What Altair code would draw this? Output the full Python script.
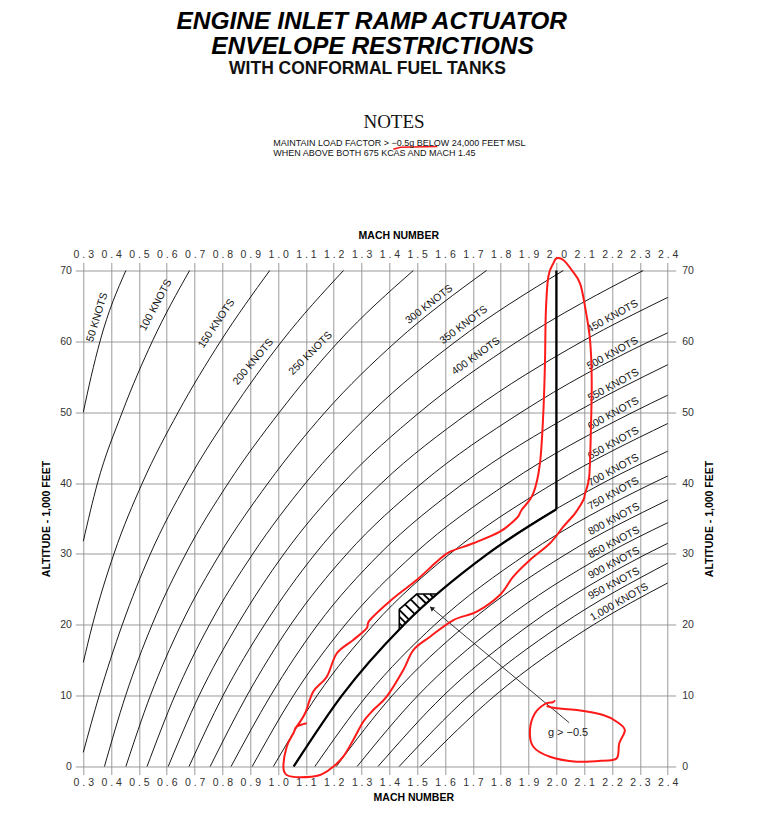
import altair as alt
import pandas as pd

# ---------------- data ----------------
MACH_TICKS = [0.3, 0.4, 0.5, 0.6, 0.7, 0.8, 0.9, 1.0, 1.1, 1.2, 1.3, 1.4,
              1.5, 1.6, 1.7, 1.8, 1.9, 2.0, 2.1, 2.2, 2.3, 2.4]
ALT_TICKS = [0, 10, 20, 30, 40, 50, 60, 70]

# constant-airspeed curves: (Mach, altitude in 1,000 ft)
KTS_50 = [(0.300, 50), (0.328, 55), (0.360, 60), (0.453, 70)]
KTS_100 = [(0.300, 31.8), (0.351, 40), (0.440, 50), (0.548, 60), (0.682, 70)]
KTS_150 = [(0.300, 14.7), (0.333, 20), (0.410, 30), (0.512, 40), (0.641, 50), (0.793, 60), (0.970, 70)]
KTS_200 = [(0.300, 2.0), (0.357, 10), (0.440, 20), (0.541, 30), (0.671, 40), (0.830, 50), (1.013, 60), (1.235, 70)]
KTS_250 = [(0.376, 0), (0.452, 10), (0.547, 20), (0.668, 30), (0.821, 40), (1.005, 50), (1.218, 60), (1.486, 70)]
KTS_300 = [(0.453, 0), (0.541, 10), (0.651, 20), (0.791, 30), (0.964, 40), (1.169, 50), (1.425, 60), (1.749, 70)]
KTS_350 = [(0.529, 0), (0.629, 10), (0.753, 20), (0.909, 30), (1.099, 40), (1.336, 50), (1.639, 60), (2.025, 70)]
KTS_400 = [(0.605, 0), (0.716, 10), (0.854, 20), (1.021, 30), (1.233, 40), (1.509, 50), (1.861, 60), (2.312, 70)]
KTS_450 = [(0.680, 0), (0.802, 10), (0.951, 20), (1.133, 30), (1.372, 40), (1.688, 50), (2.093, 60), (2.400, 66.2)]
KTS_500 = [(0.756, 0), (0.888, 10), (1.045, 20), (1.247, 30), (1.517, 40), (1.874, 50), (2.335, 60), (2.400, 61.2)]
KTS_550 = [(0.831, 0), (0.973, 10), (1.142, 20), (1.365, 30), (1.667, 40), (2.070, 50), (2.400, 56.7)]
KTS_600 = [(0.907, 0), (1.055, 10), (1.241, 20), (1.489, 30), (1.826, 40), (2.275, 50), (2.400, 52.4)]
KTS_650 = [(0.983, 0), (1.140, 10), (1.343, 20), (1.617, 30), (1.992, 40), (2.400, 48.4)]
KTS_700 = [(1.056, 0), (1.229, 10), (1.452, 20), (1.753, 30), (2.167, 40), (2.400, 44.5)]
KTS_750 = [(1.132, 0), (1.319, 10), (1.563, 20), (1.894, 30), (2.347, 40), (2.400, 41.0)]
KTS_800 = [(1.209, 0), (1.410, 10), (1.676, 20), (2.036, 30), (2.400, 37.6)]
KTS_850 = [(1.284, 0), (1.502, 10), (1.790, 20), (2.180, 30), (2.400, 34.4)]
KTS_900 = [(1.359, 0), (1.594, 10), (1.904, 20), (2.324, 30), (2.400, 31.5)]
KTS_950 = [(1.435, 0), (1.686, 10), (2.018, 20), (2.400, 28.7)]
KTS_1000 = [(1.511, 0), (1.779, 10), (2.133, 20), (2.400, 25.9)]

CURVE_KNOTS = [50, 100, 150, 200, 250, 300, 350, 400, 450, 500,
               550, 600, 650, 700, 750, 800, 850, 900, 950, 1000]
CURVES = [KTS_50, KTS_100, KTS_150, KTS_200, KTS_250, KTS_300, KTS_350,
          KTS_400, KTS_450, KTS_500, KTS_550, KTS_600, KTS_650, KTS_700,
          KTS_750, KTS_800, KTS_850, KTS_900, KTS_950, KTS_1000]

LABEL_TEXT = ["50 KNOTS", "100 KNOTS", "150 KNOTS", "200 KNOTS", "250 KNOTS",
              "300 KNOTS", "350 KNOTS", "400 KNOTS", "450 KNOTS", "500 KNOTS",
              "550 KNOTS", "600 KNOTS", "650 KNOTS", "700 KNOTS", "750 KNOTS",
              "800 KNOTS", "850 KNOTS", "900 KNOTS", "950 KNOTS", "1,000 KNOTS"]
LABEL_MACH = [0.350, 0.561, 0.779, 0.911, 1.117, 1.543, 1.667, 1.711, 2.202, 2.202,
              2.205, 2.205, 2.205, 2.205, 2.205, 2.207, 2.207, 2.207, 2.207, 2.226]
LABEL_ALT = [63.4, 65.1, 62.5, 57.1, 58.3, 65.2, 62.3, 57.9, 63.5, 58.3,
             53.8, 49.8, 45.6, 41.8, 38.5, 34.9, 31.6, 28.7, 25.8, 23.2]
LABEL_ANGLE = [287, 298, 304, 310, 315, 322, 323, 324, 331, 331,
               331, 331, 331, 331, 331, 332, 332, 332, 332, 330]

# heavy restriction boundary
BOUND_MACH = [1.056, 1.229, 1.452, 1.753, 2.000]
BOUND_ALT = [0, 10, 20, 30, 36.3]
BOUND_V_MACH = [2.000, 2.000]
BOUND_V_ALT = [36.3, 70]

# hatched g-limit pocket
HATCH_EDGE_MACH = [1.5697, 1.4979, 1.4356, 1.4356]
HATCH_EDGE_ALT = [24.34, 24.34, 22.18, 19.36]
HATCH_M1 = [1.4356, 1.4356, 1.4356, 1.4560, 1.4763, 1.4979, 1.5218, 1.5458]
HATCH_A1 = [20.20, 21.15, 22.09, 22.89, 23.59, 24.34, 24.34, 24.34]
HATCH_M2 = [1.4467, 1.4590, 1.4713, 1.4923, 1.5119, 1.5329, 1.5452, 1.5575]
HATCH_A2 = [19.77, 20.23, 20.68, 21.46, 22.19, 22.97, 23.43, 23.88]

# callout
ARROW_MACH = [2.046, 1.546]
ARROW_ALT = [6.18, 22.55]
ARROW_HEAD = (1.554, 22.28)
G_TEXT = "g > \u22120.5"
G_POS = (2.042, 4.73)

# red hand-drawn markup
RED_LOOP_M = [1.103, 1.067, 1.055, 1.031, 1.019, 1.031, 1.079, 1.151, 1.198, 1.234,
              1.270, 1.306, 1.342, 1.390, 1.450, 1.486, 1.546, 1.630, 1.714, 1.797,
              1.845, 1.905, 1.977, 2.025, 2.067, 2.097, 2.103, 2.118, 2.124, 2.127,
              2.121, 2.103, 2.085, 2.055, 2.025, 2.001, 1.989, 1.971, 1.962, 1.959,
              1.953, 1.941, 1.917, 1.875, 1.857, 1.797, 1.701, 1.618, 1.570, 1.498,
              1.414, 1.330, 1.318, 1.270, 1.211, 1.175, 1.126, 1.097, 1.064]
RED_LOOP_A = [6.10, 5.62, 4.69, 2.79, -0.03, -1.20, -1.52, -1.20, -0.03, 1.38,
              3.74, 6.32, 7.97, 9.85, 13.62, 16.44, 18.32, 20.67, 21.85, 24.20,
              26.79, 29.14, 31.50, 33.84, 35.73, 37.61, 38.55, 40.90, 47.49, 54.54,
              60.19, 64.89, 68.19, 70.07, 71.48, 71.72, 71.01, 69.12, 63.96, 56.90,
              49.85, 42.79, 38.55, 36.20, 35.03, 33.14, 31.50, 30.31, 28.90, 26.32,
              23.74, 20.67, 19.50, 17.85, 15.98, 12.67, 10.56, 7.51, 5.48]
RED_G_M = [1.995, 1.987, 1.959, 1.923, 1.905, 1.917, 1.977, 2.073, 2.168, 2.217,
           2.226, 2.246, 2.217, 2.168, 2.073, 2.001, 1.965]
RED_G_A = [9.35, 9.06, 8.82, 7.51, 5.15, 2.79, 1.38, 0.68, 0.82, 1.16,
           3.27, 5.15, 6.32, 7.27, 7.97, 8.21, 8.54]
RED_UNDER_M = [1.414, 1.440, 1.572]
RED_UNDER_A = [87.1, 87.4, 87.5]

TITLE_1 = "ENGINE INLET RAMP ACTUATOR"
TITLE_2 = "ENVELOPE RESTRICTIONS"
TITLE_3 = "WITH CONFORMAL FUEL TANKS"
NOTES_HEAD = "NOTES"
NOTE_1 = "MAINTAIN LOAD FACTOR > \u22120.5g BELOW 24,000 FEET MSL"
NOTE_2 = "WHEN ABOVE BOTH 675 KCAS AND MACH 1.45"

# ---------------- tables ----------------
rows = []
for kts, pts in zip(CURVE_KNOTS, CURVES):
    for i, (m, a) in enumerate(pts):
        rows.append({"knots": kts, "mach": m, "alt": a, "i": i})
curves_df = pd.DataFrame(rows)

labels_df = pd.DataFrame({"text": LABEL_TEXT, "mach": LABEL_MACH,
                          "alt": LABEL_ALT, "angle": LABEL_ANGLE})
bound_df = pd.DataFrame({"mach": BOUND_MACH, "alt": BOUND_ALT, "i": list(range(len(BOUND_MACH)))})
bound_v_df = pd.DataFrame({"mach": BOUND_V_MACH, "alt": BOUND_V_ALT})
hatch_edge_df = pd.DataFrame({"mach": HATCH_EDGE_MACH, "alt": HATCH_EDGE_ALT,
                              "i": list(range(len(HATCH_EDGE_MACH)))})
hatch_df = pd.DataFrame({"m1": HATCH_M1, "a1": HATCH_A1, "m2": HATCH_M2, "a2": HATCH_A2})
arrow_df = pd.DataFrame({"m1": [ARROW_MACH[0]], "a1": [ARROW_ALT[0]],
                         "m2": [ARROW_MACH[1]], "a2": [ARROW_ALT[1]]})
head_df = pd.DataFrame({"mach": [ARROW_HEAD[0]], "alt": [ARROW_HEAD[1]]})
gtext_df = pd.DataFrame({"mach": [G_POS[0]], "alt": [G_POS[1]], "t": [G_TEXT]})
red_loop_df = pd.DataFrame({"mach": RED_LOOP_M, "alt": RED_LOOP_A, "i": list(range(len(RED_LOOP_M)))})
red_g_df = pd.DataFrame({"mach": RED_G_M, "alt": RED_G_A, "i": list(range(len(RED_G_M)))})
red_under_df = pd.DataFrame({"mach": RED_UNDER_M, "alt": RED_UNDER_A, "i": [0, 1, 2]})

# ---------------- styling ----------------
GRID = "#8f8f8f"
LAB_FONT = "Liberation Sans"
xs = alt.Scale(domain=[0.3, 2.4], nice=False, zero=False)
ys = alt.Scale(domain=[0, 70], nice=False, zero=False)
XLAB = "replace(format(datum.value, '.1f'), '.', ' . ')"

common_axis = dict(domain=False, tickSize=8, tickColor=GRID, tickWidth=0.9,
                   labelFont=LAB_FONT, labelFontSize=10.5, labelColor="#333333",
                   labelOverlap=False, labelFlush=False,
                   titleFont=LAB_FONT, titleFontSize=10.5, titleFontWeight="bold",
                   titleColor="#000000")

x_bottom = alt.X("mach:Q", scale=xs, axis=alt.Axis(
    orient="bottom", values=MACH_TICKS, labelExpr=XLAB, grid=True, gridColor=GRID,
    gridWidth=0.9, labelPadding=3, title="MACH NUMBER", titleX=330, titleY=31,
    titleBaseline="middle", titleAlign="center", **common_axis))
y_left = alt.Y("alt:Q", scale=ys, axis=alt.Axis(
    orient="left", values=ALT_TICKS, grid=True, gridColor=GRID, gridWidth=0.9,
    labelPadding=4, title="ALTITUDE - 1,000 FEET", titleX=-37, titleY=248,
    titleAngle=270, titleBaseline="middle", titleAlign="center", **common_axis))
x_top = alt.X("mach:Q", scale=xs, axis=alt.Axis(
    orient="top", values=MACH_TICKS, labelExpr=XLAB, grid=False, labelPadding=3,
    title="MACH NUMBER", titleX=315, titleY=-35, titleBaseline="middle",
    titleAlign="center", **common_axis))
y_right = alt.Y("alt:Q", scale=ys, axis=alt.Axis(
    orient="right", values=ALT_TICKS, grid=False, labelPadding=6,
    title="ALTITUDE - 1,000 FEET", titleX=42, titleY=248, titleAngle=270,
    titleBaseline="middle", titleAlign="center", **common_axis))

X = lambda f="mach": alt.X(f"{f}:Q", scale=xs, axis=None)
Y = lambda f="alt": alt.Y(f"{f}:Q", scale=ys, axis=None)

curves = alt.Chart(curves_df).mark_line(color="#000000", strokeWidth=0.9,
                                        interpolate="monotone").encode(
    x=x_bottom, y=y_left, detail="knots:N", order="i:Q")

axes2 = alt.Chart(curves_df).mark_point(opacity=0).encode(x=x_top, y=y_right)

bound = alt.Chart(bound_df).mark_line(color="#000000", strokeWidth=2.3,
                                      interpolate="monotone").encode(
    x=X(), y=Y(), order="i:Q")
bound_v = alt.Chart(bound_v_df).mark_line(color="#000000", strokeWidth=2.3).encode(
    x=X(), y=Y())

hatch_edge = alt.Chart(hatch_edge_df).mark_line(color="#000000", strokeWidth=1.6).encode(
    x=X(), y=Y(), order="i:Q")
hatch = alt.Chart(hatch_df).mark_rule(color="#000000", strokeWidth=1.8).encode(
    x=X("m1"), y=Y("a1"), x2="m2:Q", y2="a2:Q")

arrow = alt.Chart(arrow_df).mark_rule(color="#222222", strokeWidth=0.9).encode(
    x=X("m1"), y=Y("a1"), x2="m2:Q", y2="a2:Q")
head = alt.Chart(head_df).mark_point(shape="triangle", filled=True, size=28,
                                     angle=310, color="#222222", opacity=1).encode(
    x=X(), y=Y())
gtext = alt.Chart(gtext_df).mark_text(font=LAB_FONT, fontSize=11, color="#222222").encode(
    x=X(), y=Y(), text="t:N")

labels = alt.Chart(labels_df).mark_text(font=LAB_FONT, fontSize=10.5, color="#111111",
                                        baseline="middle", align="center").encode(
    x=X(), y=Y(), text="text:N", angle=alt.Angle("angle:Q", scale=None))

RED = "#ff1a1a"
red_loop = alt.Chart(red_loop_df).mark_line(color=RED, strokeWidth=2,
                                            interpolate="cardinal").encode(
    x=X(), y=Y(), order="i:Q")
red_g = alt.Chart(red_g_df).mark_line(color=RED, strokeWidth=2,
                                      interpolate="cardinal").encode(
    x=X(), y=Y(), order="i:Q")
red_under = alt.Chart(red_under_df).mark_line(color=RED, strokeWidth=1.6).encode(
    x=X(), y=Y(), order="i:Q")


def header(text, x, y, **kw):
    return alt.Chart(pd.DataFrame({"t": [text]})).mark_text(baseline="middle", **kw).encode(
        x=alt.value(x), y=alt.value(y), text="t:N")


h1 = header(TITLE_1, 288.4, -249, font=LAB_FONT, fontSize=24.5, fontWeight="bold",
            fontStyle="italic", align="center", color="#000000")
h2 = header(TITLE_2, 289.2, -224, font=LAB_FONT, fontSize=24.5, fontWeight="bold",
            fontStyle="italic", align="center", color="#000000")
h3 = header(TITLE_3, 284.2, -201.3, font=LAB_FONT, fontSize=17.5, fontWeight="bold",
            align="center", color="#111111")
h4 = header(NOTES_HEAD, 310.7, -148.8, font="Liberation Serif", fontSize=19,
            align="center", color="#111111")
h5 = header(NOTE_1, 190, -127.5, font=LAB_FONT, fontSize=9, align="left", color="#111111")
h6 = header(NOTE_2, 190, -117.5, font=LAB_FONT, fontSize=9, align="left", color="#111111")

chart = alt.layer(
    curves, axes2, bound, bound_v, hatch_edge, hatch, arrow, head, gtext, labels,
    red_loop, red_g, red_under, h1, h2, h3, h4, h5, h6
).resolve_axis(x="independent", y="independent").properties(
    width=584.4, height=496,
    autosize=alt.AutoSizeParams(type="none"),
    padding={"left": 75.3, "top": 262.5, "right": 100, "bottom": 57},
    background="#ffffff",
).configure_view(stroke=None)

chart.save("out.html", embed_options={"renderer": "svg", "actions": False})
